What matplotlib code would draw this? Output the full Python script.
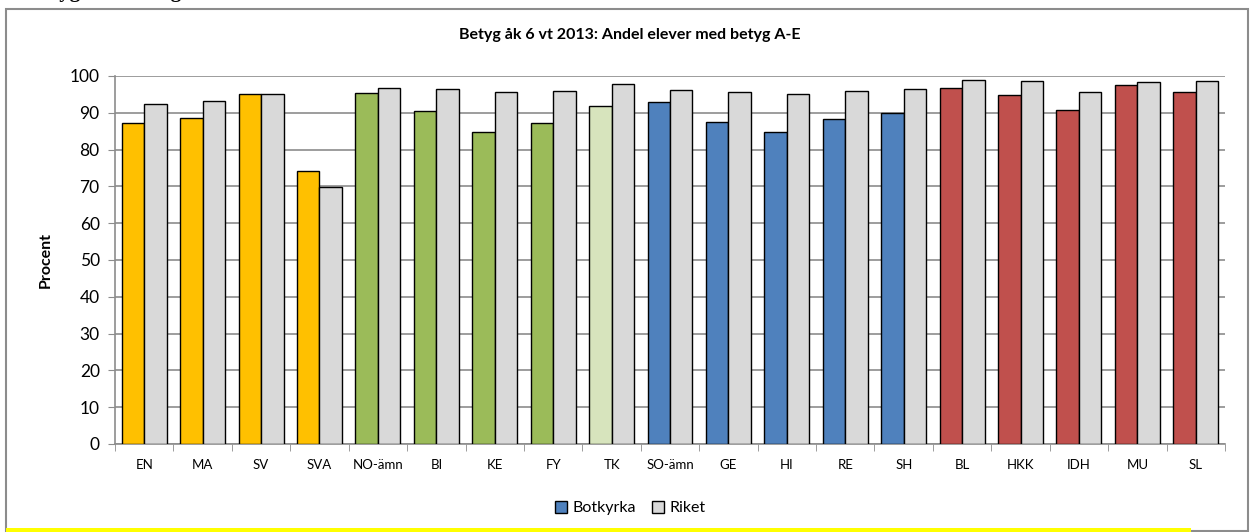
import matplotlib.pyplot as plt
import numpy as np
from matplotlib.patches import Rectangle, Patch

# data
amnen = ['EN', 'MA', 'SV', 'SVA', 'NO-ämn', 'BI', 'KE', 'FY', 'TK', 'SO-ämn',
         'GE', 'HI', 'RE', 'SH', 'BL', 'HKK', 'IDH', 'MU', 'SL']
botkyrka = [87.3, 88.5, 95.1, 74.3, 95.3, 90.4, 84.8, 87.1, 91.8, 93.0,
            87.4, 84.8, 88.4, 89.9, 96.8, 94.9, 90.7, 97.5, 95.7]
riket = [92.5, 93.3, 95.2, 69.9, 96.8, 96.4, 95.7, 95.9, 97.8, 96.2,
         95.7, 95.2, 95.8, 96.4, 98.8, 98.6, 95.7, 98.5, 98.6]
grupp = ['sv', 'sv', 'sv', 'sv', 'no', 'no', 'no', 'no', 'tk', 'so',
         'so', 'so', 'so', 'so', 'pr', 'pr', 'pr', 'pr', 'pr']

farger = {'sv': '#FFC000', 'no': '#9BBB59', 'tk': '#D7E4BD',
          'so': '#4F81BD', 'pr': '#C0504D'}
gra = '#D9D9D9'

plt.rcParams['font.family'] = ['Lato', 'DejaVu Sans']

W, H = 1251, 532
fig = plt.figure(figsize=(W / 100, H / 100), dpi=100)

# outer chart frame + yellow strip at the bottom
fig.patches.append(Rectangle((6 / W, 1 - 531 / H), (1248 - 6) / W, (531 - 9) / H,
                             transform=fig.transFigure, fill=False,
                             edgecolor='#8C8C8C', linewidth=1.5))
fig.patches.append(Rectangle((6 / W, 0), (1191 - 6) / W, 4 / H,
                             transform=fig.transFigure, facecolor='#FFFF00',
                             edgecolor='none', zorder=5))
# heading above the chart, cut off by the top edge like in the original
fig.text(30 / W, 1 + 3 / H, 'Betygsfördelning', family='Liberation Serif',
         fontsize=15, fontweight='bold', va='baseline', ha='left')

ax = fig.add_axes([115 / W, 1 - 444 / H, (1225 - 115) / W, (444 - 76) / H])

x = np.arange(len(amnen))
bw = 0.385
ax.bar(x - bw / 2, botkyrka, bw, color=[farger[g] for g in grupp],
       edgecolor='black', linewidth=1, zorder=3)
ax.bar(x + bw / 2, riket, bw, color=gra, edgecolor='black', linewidth=1, zorder=3)

ax.set_xlim(-0.5, len(amnen) - 0.5)
ax.set_ylim(0, 100)
ax.set_yticks(range(0, 101, 10))
ax.yaxis.grid(True, color='#8C8C8C', linewidth=1.2)
ax.set_axisbelow(True)

ax.set_xticks(x)
ax.set_xticklabels(amnen, fontsize=9.5)
ax.set_xticks(np.arange(-0.5, len(amnen)), minor=True)
ax.tick_params(axis='x', which='major', length=0, pad=11)
ax.tick_params(axis='x', which='minor', length=5, color='#8C8C8C')
ax.tick_params(axis='y', length=5, color='#8C8C8C', labelsize=12.5, pad=6)

for s in ['top', 'right']:
    ax.spines[s].set_visible(False)
ax.spines['left'].set_color('#8C8C8C')
ax.spines['bottom'].set_color('#8C8C8C')
ax.spines['left'].set_linewidth(1.2)
ax.spines['bottom'].set_linewidth(1.2)

ax.set_ylabel('Procent', fontsize=11.5, fontweight='bold', labelpad=12)
fig.text(630 / W, 1 - 35 / H, 'Betyg åk 6 vt 2013: Andel elever med betyg A-E',
         fontsize=11.5, fontweight='bold', ha='center', va='center')

handles = [Patch(facecolor='#4F81BD', edgecolor='black', label='Botkyrka'),
           Patch(facecolor=gra, edgecolor='black', label='Riket')]
fig.legend(handles=handles, loc='center', bbox_to_anchor=(630 / W, 1 - 508 / H),
           ncol=2, frameon=False, fontsize=11.5, handlelength=0.8, handleheight=0.8,
           handletextpad=0.3, columnspacing=1.0)

fig.savefig('out.png', dpi=100)
